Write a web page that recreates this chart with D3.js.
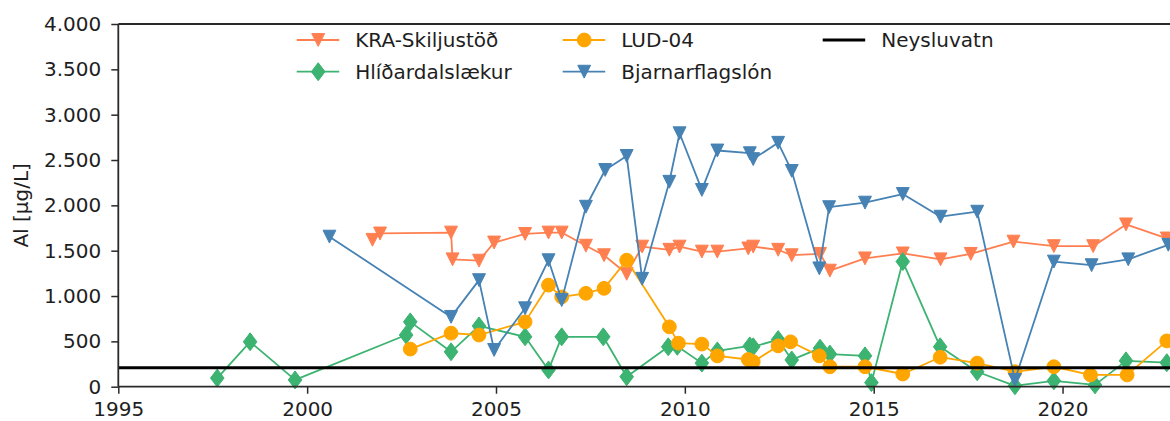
<!DOCTYPE html>
<html>
<head>
<meta charset="utf-8">
<script src="https://cdn.jsdelivr.net/npm/d3@7"></script>
<style>
  html, body { margin: 0; padding: 0; background: #fff; }
  svg { display: block; font-family: "DejaVu Sans", sans-serif; }
</style>
</head>
<body>
<svg id="chart" width="1170" height="421"></svg>
<script>
// Aluminium (Al, µg/L) by sampling site; x values are decimal years.
const kraYears = [2001.73, 2001.93, 2003.81, 2003.85, 2004.55, 2004.95, 2005.77, 2006.39, 2006.74, 2007.38, 2007.86, 2008.46, 2008.87, 2009.59, 2009.86, 2010.45, 2010.86, 2011.68, 2011.81, 2012.47, 2012.83, 2013.58, 2013.84, 2014.77, 2015.77, 2016.77, 2017.57, 2018.70, 2019.77, 2020.81, 2021.68, 2022.76];
const kraValues = [1620, 1690, 1700, 1405, 1390, 1590, 1685, 1700, 1700, 1555, 1450, 1245, 1545, 1510, 1545, 1490, 1490, 1525, 1545, 1510, 1450, 1465, 1280, 1415, 1470, 1405, 1465, 1600, 1550, 1550, 1790, 1635];

const hlidYears = [1997.62, 1998.49, 1999.68, 2002.62, 2002.73, 2003.81, 2004.55, 2005.77, 2006.39, 2006.74, 2007.84, 2008.46, 2009.56, 2009.80, 2010.45, 2010.86, 2011.72, 2011.81, 2012.47, 2012.83, 2013.58, 2013.84, 2014.77, 2014.94, 2015.77, 2016.76, 2017.74, 2018.74, 2019.77, 2020.86, 2021.68, 2022.76];
const hlidValues = [95, 495, 75, 570, 715, 385, 670, 550, 185, 550, 550, 110, 440, 445, 260, 395, 450, 440, 520, 295, 425, 360, 340, 45, 1380, 440, 165, 10, 65, 20, 285, 265];

const ludYears = [2002.73, 2003.81, 2004.55, 2005.77, 2006.39, 2006.74, 2007.38, 2007.86, 2008.46, 2009.59, 2009.83, 2010.45, 2010.86, 2011.68, 2011.81, 2012.47, 2012.80, 2013.56, 2013.84, 2014.77, 2015.77, 2016.76, 2017.74, 2018.74, 2019.77, 2020.74, 2021.71, 2022.76];
const ludValues = [415, 590, 570, 715, 1120, 990, 1030, 1085, 1395, 660, 480, 470, 340, 300, 275, 450, 495, 340, 220, 220, 140, 325, 260, 165, 220, 130, 130, 505];

const bjaYears = [2000.59, 2003.81, 2004.55, 2004.95, 2005.77, 2006.39, 2006.74, 2007.38, 2007.89, 2008.46, 2008.87, 2009.59, 2009.86, 2010.45, 2010.86, 2011.72, 2011.81, 2012.47, 2012.83, 2013.56, 2013.82, 2014.77, 2015.77, 2016.77, 2017.74, 2018.74, 2019.77, 2020.77, 2021.74, 2022.80];
const bjaValues = [1655, 770, 1175, 405, 865, 1395, 955, 1985, 2390, 2545, 1190, 2260, 2795, 2170, 2605, 2575, 2510, 2690, 2380, 1305, 1980, 2030, 2125, 1875, 1930, 75, 1380, 1340, 1405, 1565];

// Drinking-water reference level
const neysluvatnValue = [210];

const seriesNames = ["KRA-Skiljustöð", "Hlíðardalslækur", "LUD-04", "Bjarnarflagslón", "Neysluvatn"];
const xTickValues = [1995, 2000, 2005, 2010, 2015, 2020];
const yTickValues = [0, 500, 1000, 1500, 2000, 2500, 3000, 3500, 4000];
const yLabel = "Al [µg/L]";

// ---- layout ----
const plotLeft = 118.3, plotTop = 24, plotBottom = 386.7;
const pxPerYear = 37.77;
const xDomain = [1995, 2025];

const svg = d3.select("#chart");
svg.append("rect").attr("width", 1170).attr("height", 421).attr("fill", "#fff");

const x = d3.scaleLinear().domain(xDomain)
  .range([plotLeft, plotLeft + (xDomain[1] - xDomain[0]) * pxPerYear]);
const y = d3.scaleLinear().domain([0, 4000]).range([plotBottom, plotTop]);

const isLocale = d3.formatLocale({ decimal: ",", thousands: ".", grouping: [3], currency: ["", " kr."] });
const fmtY = isLocale.format(",d");

const fontSize = 20;
const textColor = "#1e1e1e";
const spineColor = "#2a2a2a";

// ---- symbols ----
const triangleDown = {
  draw(ctx, size) {
    const h = Math.sqrt(size) / 2;
    ctx.moveTo(-h, -h);
    ctx.lineTo(h, -h);
    ctx.lineTo(0, h);
    ctx.closePath();
  }
};
const diamond = {
  draw(ctx, size) {
    const s = Math.sqrt(size);
    const w = s * 0.5, hh = s * 0.66;
    ctx.moveTo(0, -hh);
    ctx.lineTo(w, 0);
    ctx.lineTo(0, hh);
    ctx.lineTo(-w, 0);
    ctx.closePath();
  }
};

const series = [
  { name: seriesNames[0], xs: kraYears, ys: kraValues, color: "#ff7f50", symbol: triangleDown, size: 165 },
  { name: seriesNames[1], xs: hlidYears, ys: hlidValues, color: "#3cb371", symbol: diamond, size: 185 },
  { name: seriesNames[2], xs: ludYears, ys: ludValues, color: "#ffa500", symbol: d3.symbolCircle, size: 150 },
  { name: seriesNames[3], xs: bjaYears, ys: bjaValues, color: "#4682b4", symbol: triangleDown, size: 165 }
];

const line = d3.line().x(d => x(d[0])).y(d => y(d[1]));
const plot = svg.append("g");

series.forEach(s => {
  const pts = s.xs.map((v, i) => [v, s.ys[i]]);
  const g = plot.append("g");
  g.append("path").datum(pts)
    .attr("d", line)
    .attr("fill", "none")
    .attr("stroke", s.color)
    .attr("stroke-width", 1.8)
    .attr("stroke-linejoin", "round");
  g.selectAll("path.mk").data(pts).join("path")
    .attr("class", "mk")
    .attr("transform", d => `translate(${x(d[0])},${y(d[1])})`)
    .attr("d", d3.symbol().type(s.symbol).size(s.size))
    .attr("fill", s.color)
    .attr("stroke", s.color)
    .attr("stroke-width", 1);
});

// reference line
plot.selectAll("line.ref").data(neysluvatnValue).join("line")
  .attr("class", "ref")
  .attr("x1", x(xDomain[0])).attr("x2", x(xDomain[1]))
  .attr("y1", d => y(d)).attr("y2", d => y(d))
  .attr("stroke", "#000").attr("stroke-width", 3);

// ---- axes ----
const yAxis = d3.axisLeft(y).tickValues(yTickValues).tickFormat(fmtY)
  .tickSize(7).tickPadding(10).tickSizeOuter(0);
const gy = svg.append("g").attr("transform", `translate(${plotLeft},0)`).call(yAxis);

const xAxis = d3.axisBottom(x).tickValues(xTickValues).tickFormat(d3.format("d"))
  .tickSize(7).tickPadding(8).tickSizeOuter(0);
const gx = svg.append("g").attr("transform", `translate(0,${plotBottom})`).call(xAxis);

[gx, gy].forEach(g => {
  g.select(".domain").remove();
  g.selectAll(".tick line").attr("stroke", spineColor).attr("stroke-width", 1.5);
  g.selectAll(".tick text").attr("fill", textColor)
    .style("font-family", '"DejaVu Sans", sans-serif')
    .style("font-size", fontSize + "px");
});

// spines (left, top, bottom)
const spines = svg.append("g").attr("stroke", spineColor).attr("stroke-width", 1.8);
spines.append("line").attr("x1", plotLeft).attr("x2", plotLeft).attr("y1", plotTop).attr("y2", plotBottom);
spines.append("line").attr("x1", plotLeft).attr("x2", x(xDomain[1])).attr("y1", plotTop).attr("y2", plotTop);
spines.append("line").attr("x1", plotLeft).attr("x2", x(xDomain[1])).attr("y1", plotBottom).attr("y2", plotBottom);

// y label
svg.append("text")
  .attr("transform", `translate(28,${(plotTop + plotBottom) / 2}) rotate(-90)`)
  .attr("text-anchor", "middle")
  .attr("fill", textColor)
  .style("font-size", fontSize + "px")
  .text(yLabel);

// ---- legend (3 columns, filled column-wise) ----
const legendCols = [296.7, 562.7, 822.7];
const legendRows = [40, 71.7];
const legendItems = series.map(s => ({ name: s.name, color: s.color, symbol: s.symbol, size: s.size, width: 1.8 }))
  .concat([{ name: seriesNames[4], color: "#000", symbol: null, width: 3 }]);

const leg = svg.append("g");
legendItems.forEach((it, i) => {
  const cx = legendCols[Math.floor(i / 2)];
  const cy = legendRows[i % 2];
  const g = leg.append("g").attr("transform", `translate(${cx},${cy})`);
  g.append("line").attr("x1", 0).attr("x2", 42.5).attr("y1", 0).attr("y2", 0)
    .attr("stroke", it.color).attr("stroke-width", it.width);
  if (it.symbol) {
    g.append("path").attr("transform", "translate(21.5,0)")
      .attr("d", d3.symbol().type(it.symbol).size(it.size))
      .attr("fill", it.color).attr("stroke", it.color);
  }
  g.append("text").attr("x", 58.5).attr("y", 0).attr("dy", "0.36em")
    .attr("fill", textColor).style("font-size", fontSize + "px")
    .text(it.name);
});
</script>
</body>
</html>
